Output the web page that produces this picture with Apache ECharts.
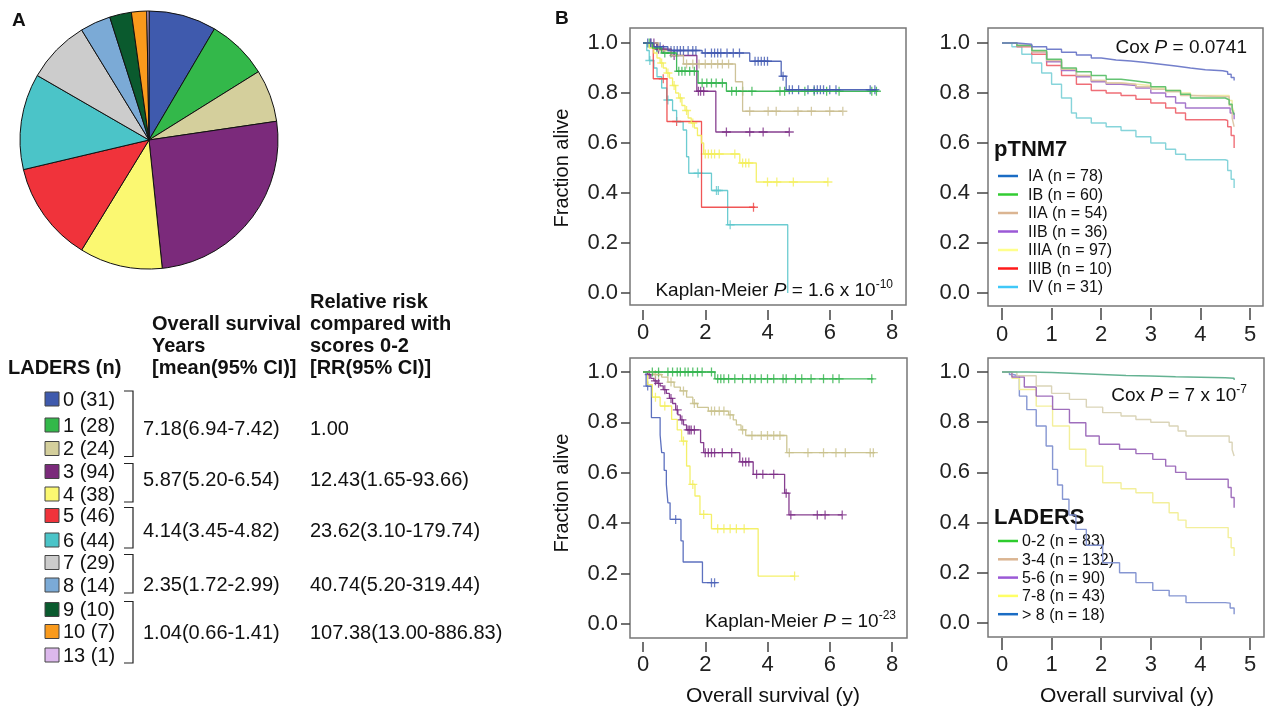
<!DOCTYPE html>
<html>
<head>
<meta charset="utf-8">
<title>LADERS survival</title>
<script src="https://cdn.jsdelivr.net/npm/echarts@6/dist/echarts.min.js"></script>
<style>
  html, body { margin: 0; padding: 0; background: #fff; }
  #chart { width: 1266px; height: 713px; }
</style>
</head>
<body>
<div id="chart"></div>
<script>
// ---------- panel A : LADERS score distribution ----------
const laderScores = ["0", "1", "2", "3", "4", "5", "6", "7", "8", "9", "10", "13"];
const laderCounts = [31, 28, 24, 94, 38, 46, 44, 29, 14, 10, 7, 1];
const laderColors = ["#3f5aad", "#33b84a", "#d4cf9c", "#7b2a7b", "#fbf871", "#f0333b",
                     "#4bc4c8", "#cccccc", "#7baad6", "#0a5a2e", "#f99a1c", "#dcb8ec"];
// groups of scores (first row, last row) with survival and relative risk
const groupRows = [[0, 2], [3, 4], [5, 6], [7, 8], [9, 11]];
const groupSurvival = ["7.18(6.94-7.42)", "5.87(5.20-6.54)", "4.14(3.45-4.82)", "2.35(1.72-2.99)", "1.04(0.66-1.41)"];
const groupRisk = ["1.00", "12.43(1.65-93.66)", "23.62(3.10-179.74)", "40.74(5.20-319.44)", "107.38(13.00-886.83)"];

// ---------- panel B : Kaplan-Meier by pTNM7 ----------
const stageNames = ["IA", "IB", "IIA", "IIB", "IIIA", "IIIB", "IV"];
const stageN = [78, 60, 54, 36, 97, 10, 31];
const kmIA = [[0,1],[0.35,0.985],[0.8,0.97],[1.9,0.96],[3.43,0.927],[4.44,0.867],[4.6,0.813],[7.5,0.813]];
const kmIB = [[0,1],[0.3,0.98],[0.6,0.96],[1.08,0.887],[1.77,0.84],[2.68,0.807],[7.55,0.807]];
const kmIIA = [[0,1],[0.5,0.97],[0.9,0.95],[1.3,0.916],[2.97,0.845],[3.2,0.727],[6.4,0.727]];
const kmIIB = [[0,1],[0.45,0.975],[0.9,0.95],[1.73,0.807],[2.34,0.644],[4.7,0.644]];
const kmIIIA = [[0,1],[0.2,0.98],[0.35,0.96],[0.45,0.94],[0.55,0.92],[0.65,0.9],[0.75,0.88],[0.85,0.86],[0.95,0.83],
                [1.05,0.8],[1.15,0.78],[1.25,0.75],[1.35,0.73],[1.45,0.7],[1.55,0.68],[1.65,0.66],[1.75,0.63],[1.88,0.6],
                [1.95,0.556],[3.11,0.52],[3.64,0.444],[5.94,0.444]];
const kmIIIB = [[0,1],[0.33,0.857],[0.77,0.686],[1.88,0.343],[3.6,0.343]];
const kmIV = [[0,1],[0.12,0.97],[0.2,0.93],[0.35,0.9],[0.45,0.865],[0.6,0.82],[0.76,0.772],[0.95,0.73],[1.08,0.685],
              [1.29,0.652],[1.4,0.545],[1.47,0.479],[2.2,0.41],[2.72,0.273],[4.65,0]];
// censored patients (+)
const cenIA = [[0.15,1],[0.25,1],[0.45,0.985],[0.55,0.985],[0.9,0.97],[1.0,0.97],[1.1,0.97],[1.2,0.97],[1.3,0.97],[1.45,0.97],
               [1.6,0.97],[1.7,0.97],[2.0,0.96],[2.2,0.96],[2.3,0.96],[2.4,0.96],[2.5,0.96],[2.7,0.96],[2.9,0.96],[3.1,0.96],
               [3.6,0.927],[3.7,0.927],[3.8,0.927],[3.9,0.927],[4.0,0.927],[4.5,0.867],[4.7,0.813],[4.8,0.813],[5.0,0.813],
               [5.3,0.813],[5.5,0.813],[5.6,0.813],[5.7,0.813],[5.8,0.813],[6.0,0.813],[6.2,0.813],[7.3,0.813],[7.45,0.813]];
const cenIB = [[0.2,1],[0.45,0.98],[0.7,0.96],[0.9,0.96],[1.15,0.887],[1.25,0.887],[1.35,0.887],[1.5,0.887],[1.65,0.887],
               [1.9,0.84],[2.05,0.84],[2.2,0.84],[2.35,0.84],[2.55,0.84],[2.85,0.807],[3.0,0.807],[3.2,0.807],[3.5,0.807],
               [4.4,0.807],[4.55,0.807],[5.2,0.807],[5.5,0.807],[5.9,0.807],[6.3,0.807],[7.35,0.807],[7.5,0.807]];
const cenIIA = [[1.4,0.916],[1.6,0.916],[1.8,0.916],[2.0,0.916],[2.2,0.916],[2.4,0.916],[2.55,0.916],[2.75,0.916],
                [3.43,0.727],[4.02,0.727],[4.28,0.727],[4.98,0.727],[5.41,0.727],[6.0,0.727],[6.42,0.727]];
const cenIIB = [[0.25,1],[0.35,1],[0.5,0.975],[0.65,0.975],[1.0,0.95],[1.78,0.807],[1.85,0.807],[1.95,0.807],
                [2.68,0.644],[3.43,0.644],[3.86,0.644],[4.7,0.644]];
const cenIIIA = [[0.6,0.92],[0.8,0.88],[1.0,0.83],[1.2,0.78],[1.4,0.73],[1.6,0.68],[2.0,0.556],[2.1,0.556],[2.2,0.556],
                 [2.3,0.556],[2.45,0.556],[2.95,0.556],[3.2,0.52],[3.3,0.52],[3.4,0.52],[4.0,0.444],[4.3,0.444],[4.83,0.444],[5.94,0.444]];
const cenIIIB = [[0.65,0.857],[1.08,0.686],[3.55,0.343]];
const cenIV = [[0.22,0.93],[0.8,0.772],[1.77,0.479],[2.36,0.41],[2.42,0.41],[2.8,0.273]];

// ---------- panel B : Kaplan-Meier by LADERS ----------
const laderGroups = ["0-2", "3-4", "5-6", "7-8", "> 8"];
const laderGroupN = [83, 132, 90, 43, 18];
const km02 = [[0,1],[2.31,0.973],[7.4,0.973]];
const km34 = [[0,1],[0.35,0.99],[0.6,0.98],[0.8,0.96],[1.0,0.94],[1.2,0.925],[1.4,0.9],[1.6,0.875],[1.75,0.86],[2.1,0.845],
              [2.75,0.83],[2.9,0.81],[3.0,0.79],[3.15,0.77],[3.3,0.748],[4.62,0.68],[7.45,0.68]];
const km56 = [[0,1],[0.15,0.99],[0.25,0.975],[0.35,0.965],[0.45,0.955],[0.55,0.945],[0.65,0.93],[0.75,0.915],[0.85,0.895],
              [0.95,0.875],[1.05,0.85],[1.12,0.83],[1.2,0.81],[1.3,0.79],[1.4,0.77],[1.85,0.72],[1.95,0.68],[3.11,0.643],
              [3.54,0.594],[4.55,0.519],[4.69,0.433],[6.4,0.433]];
const km78 = [[0,1],[0.15,0.95],[0.3,0.9],[0.55,0.865],[0.92,0.812],[1.1,0.77],[1.24,0.726],[1.4,0.627],[1.51,0.554],
              [1.67,0.508],[1.83,0.435],[2.2,0.378],[3.7,0.19],[4.87,0.19]];
const km8p = [[0,1],[0.1,0.944],[0.27,0.819],[0.55,0.75],[0.6,0.68],[0.68,0.61],[0.75,0.554],[0.8,0.481],[0.87,0.415],
              [1.22,0.33],[1.29,0.246],[1.91,0.164],[2.4,0.164]];
const cen02 = [[0.3,1],[0.5,1],[0.8,1],[0.95,1],[1.1,1],[1.2,1],[1.35,1],[1.45,1],[1.6,1],[1.75,1],[1.9,1],[2.2,1],
               [2.4,0.973],[2.5,0.973],[2.6,0.973],[2.75,0.973],[2.95,0.973],[3.2,0.973],[3.45,0.973],[3.6,0.973],[3.8,0.973],
               [4.0,0.973],[4.2,0.973],[4.5,0.973],[4.6,0.973],[4.9,0.973],[5.1,0.973],[5.4,0.973],[5.8,0.973],[6.1,0.973],
               [6.3,0.973],[7.35,0.973]];
const cen34 = [[0.4,0.99],[0.5,0.99],[0.9,0.96],[1.3,0.925],[1.65,0.875],[2.2,0.845],[2.3,0.845],[2.45,0.845],[2.6,0.845],
               [2.8,0.83],[3.2,0.77],[3.5,0.748],[3.8,0.748],[4.0,0.748],[4.2,0.748],[4.4,0.748],[4.7,0.68],[5.3,0.68],
               [5.8,0.68],[6.2,0.68],[6.5,0.68],[7.3,0.68],[7.4,0.68]];
const cen56 = [[0.2,0.99],[0.4,0.965],[0.5,0.955],[0.7,0.93],[0.9,0.895],[1.1,0.85],[1.25,0.81],[1.45,0.77],[1.5,0.77],
               [1.55,0.77],[1.65,0.77],[2.0,0.68],[2.1,0.68],[2.2,0.68],[2.3,0.68],[2.55,0.68],[2.85,0.68],[3.2,0.643],
               [3.3,0.643],[3.4,0.643],[3.65,0.594],[3.85,0.594],[4.2,0.594],[4.6,0.519],[4.75,0.433],[5.6,0.433],[5.85,0.433],[6.4,0.433]];
const cen78 = [[0.4,0.9],[0.7,0.865],[1.3,0.726],[1.6,0.554],[1.95,0.435],[2.4,0.378],[2.6,0.378],[2.8,0.378],[3.0,0.378],
               [3.25,0.378],[4.87,0.19]];
const cen8p = [[0.15,0.944],[1.05,0.415],[2.2,0.164],[2.3,0.164]];

// ---------- panel B : Cox adjusted curves ----------
const coxIA = [[0,1],[0.3,0.995],[0.6,0.985],[0.9,0.975],[1.2,0.963],[1.5,0.952],[1.8,0.94],[2.0,0.932],[2.3,0.928],[2.6,0.922],
               [2.9,0.915],[3.2,0.908],[3.5,0.9],[3.8,0.893],[4.1,0.889],[4.45,0.885],[4.55,0.875],[4.62,0.862],[4.68,0.85]];
const coxIB = [[0,1],[0.3,0.99],[0.6,0.97],[0.9,0.935],[1.2,0.9],[1.5,0.885],[1.8,0.87],[2.1,0.855],[2.4,0.848],[2.7,0.84],
               [3.0,0.825],[3.3,0.81],[3.6,0.795],[3.8,0.78],[4.5,0.773],[4.58,0.755],[4.64,0.735],[4.68,0.713]];
const coxIIA = [[0,1],[0.3,0.99],[0.6,0.965],[0.9,0.93],[1.2,0.895],[1.5,0.87],[1.8,0.85],[2.1,0.84],[2.4,0.835],[2.7,0.825],
                [3.0,0.815],[3.3,0.805],[3.6,0.79],[3.8,0.785],[4.5,0.785],[4.58,0.75],[4.64,0.7],[4.68,0.665]];
const coxIIB = [[0,1],[0.3,0.99],[0.6,0.965],[0.9,0.925],[1.2,0.89],[1.5,0.865],[1.8,0.845],[2.1,0.835],[2.4,0.83],[2.7,0.82],
                [3.0,0.8],[3.3,0.785],[3.5,0.76],[3.7,0.74],[4.5,0.74],[4.6,0.72],[4.68,0.695]];
const coxIIIA = [[0,1],[0.3,0.99],[0.6,0.965],[0.9,0.93],[1.2,0.895],[1.5,0.87],[1.8,0.85],[2.1,0.84],[2.4,0.835],[2.7,0.83],
                 [3.0,0.82],[3.3,0.81],[3.6,0.8],[3.8,0.79],[4.5,0.79],[4.58,0.77],[4.64,0.745],[4.68,0.725]];
const coxIIIB = [[0,1],[0.3,0.985],[0.6,0.955],[0.9,0.91],[1.2,0.87],[1.5,0.835],[1.8,0.81],[2.1,0.8],[2.4,0.79],[2.7,0.775],
                 [3.0,0.76],[3.3,0.74],[3.5,0.72],[3.7,0.693],[4.5,0.69],[4.55,0.665],[4.62,0.63],[4.68,0.58]];
const coxIV = [[0,1],[0.2,0.985],[0.4,0.955],[0.6,0.92],[0.8,0.88],[1.0,0.835],[1.2,0.78],[1.4,0.72],[1.5,0.7],[1.8,0.68],
               [2.1,0.665],[2.4,0.65],[2.7,0.625],[3.0,0.6],[3.3,0.575],[3.5,0.555],[3.7,0.533],[4.5,0.53],[4.55,0.49],
               [4.62,0.455],[4.68,0.42]];
const cox02 = [[0,1],[0.5,0.998],[1.0,0.994],[1.5,0.99],[2.0,0.986],[2.5,0.984],[3.0,0.981],[3.5,0.979],[4.0,0.977],
               [4.5,0.975],[4.68,0.968]];
const cox34 = [[0,1],[0.3,0.985],[0.69,0.944],[1.0,0.915],[1.36,0.891],[1.7,0.86],[2.03,0.838],[2.4,0.825],[2.7,0.811],
               [3.0,0.8],[3.37,0.785],[3.55,0.765],[3.71,0.745],[4.5,0.745],[4.58,0.72],[4.64,0.69],[4.68,0.665]];
const cox56 = [[0,1],[0.2,0.98],[0.45,0.94],[0.69,0.904],[1.02,0.851],[1.36,0.798],[1.69,0.745],[1.96,0.712],[2.37,0.692],
               [2.7,0.675],[3.04,0.652],[3.3,0.625],[3.5,0.6],[3.71,0.573],[4.5,0.573],[4.56,0.54],[4.62,0.5],[4.68,0.459]];
const cox78 = [[0,1],[0.2,0.975],[0.35,0.93],[0.69,0.864],[1.02,0.785],[1.36,0.692],[1.69,0.625],[2.03,0.559],[2.4,0.535],
               [2.7,0.519],[3.04,0.479],[3.37,0.439],[3.55,0.41],[3.71,0.38],[4.5,0.38],[4.56,0.34],[4.62,0.3],[4.68,0.267]];
const cox8p = [[0,1],[0.15,0.99],[0.22,0.984],[0.35,0.904],[0.5,0.85],[0.69,0.785],[0.89,0.705],[1.02,0.612],[1.12,0.55],
               [1.22,0.493],[1.35,0.43],[1.49,0.373],[1.7,0.31],[2.03,0.24],[2.37,0.2],[2.7,0.161],[3.04,0.13],[3.37,0.108],
               [3.71,0.081],[4.5,0.079],[4.6,0.06],[4.68,0.035]];

const fraction = [0, 0.2, 0.4, 0.6, 0.8, 1.0];

// ---------- colours ----------
const kmStageColors = ["#4058b0", "#2fb34a", "#c9bd8e", "#7a2a84", "#f3ee5a", "#ee4444", "#5cc7cc"];
const kmLaderColors = ["#2fb34a", "#c8c08a", "#7a2a84", "#f3ee5a", "#4b62b8"];
const coxStageColors = ["#6c78c8", "#5cc06c", "#dcc4a4", "#a070c8", "#eeeaa0", "#ee6670", "#80d2d8"];
const coxLaderColors = ["#5cae8c", "#d8d2b4", "#9a66b8", "#f2ee96", "#8090d0"];
const legStageColors = ["#1a6cc4", "#33cc33", "#dbb592", "#9b59d6", "#ffff8c", "#ff1a1a", "#40c8f8"];
const legLaderColors = ["#2ecc2e", "#dbb592", "#9b59d6", "#ffff66", "#1a6cc4"];

const FONT = "'Liberation Sans', Arial, Helvetica, sans-serif";
const plus = "path://M4.3,0H5.7V4.3H10V5.7H5.7V10H4.3V5.7H0V4.3H4.3Z";

const chart = echarts.init(document.getElementById("chart"));

function text(x, y, str, size, opts) {
  const o = opts || {};
  return {
    type: "text", x: x, y: y, rotation: o.rotation || 0, silent: true,
    style: {
      text: str, fontSize: size, fontFamily: FONT, fontWeight: o.bold ? "bold" : "normal",
      fill: "#111", align: o.align || "left", verticalAlign: "middle", rich: o.rich
    }
  };
}

function frame(x, y, w, h) {
  return { type: "rect", silent: true, shape: { x: x, y: y, width: w, height: h },
           style: { fill: "none", stroke: "#777", lineWidth: 1.5 } };
}

function xAxisOf(grid, max, interval, offset, tickLen, margin) {
  return {
    type: "value", gridIndex: grid, min: 0, max: max, interval: interval, offset: offset,
    axisLine: { show: false, onZero: false },
    axisTick: { show: true, length: tickLen, lineStyle: { color: "#444", width: 1.5 } },
    axisLabel: { margin: margin, fontSize: 22, color: "#222", fontFamily: FONT },
    splitLine: { show: false }
  };
}

function yAxisOf(grid, offset, tickLen, margin) {
  return {
    type: "value", gridIndex: grid, min: fraction[0], max: fraction[fraction.length - 1], interval: 0.2, offset: offset,
    axisLine: { show: false, onZero: false },
    axisTick: { show: true, length: tickLen, lineStyle: { color: "#444", width: 1.5 } },
    axisLabel: { margin: margin, fontSize: 22, color: "#222", fontFamily: FONT, formatter: v => v.toFixed(1) },
    splitLine: { show: false }
  };
}

function stepLine(grid, data, color, width, opacity) {
  return {
    type: "line", xAxisIndex: grid, yAxisIndex: grid, data: data, step: "end",
    showSymbol: false, clip: false, silent: true,
    lineStyle: { color: color, width: width, opacity: opacity }
  };
}

function censor(grid, data, color) {
  return {
    type: "scatter", xAxisIndex: grid, yAxisIndex: grid, data: data, clip: false, silent: true,
    symbol: plus, symbolSize: 9, itemStyle: { color: color }
  };
}

const richP = {
  i: { fontStyle: "italic", fontSize: 19, fontFamily: FONT, lineHeight: 24 },
  sup: { fontSize: 12, fontFamily: FONT, verticalAlign: "top", lineHeight: 12 }
};

// ---------- graphic : table of panel A, frames, legends, labels ----------
const rowY = [399, 425, 448.5, 471.5, 494, 515.5, 540, 562.5, 585, 609.5, 631.5, 655];
const groupY = [429, 480, 531, 585, 633];
const graphics = [];

graphics.push(text(12, 21, "A", 19, { bold: true }));
graphics.push(text(555, 19, "B", 19, { bold: true }));

const headLines = [
  [310, 302, "Relative risk"],
  [152, 324, "Overall survival"], [310, 324, "compared with"],
  [152, 346, "Years"], [310, 346, "scores 0-2"],
  [8, 368, "LADERS (n)"], [152, 368, "[mean(95% CI)]"], [310, 368, "[RR(95% CI)]"]
];
headLines.forEach(h => graphics.push(text(h[0], h[1], h[2], 20, { bold: true })));

laderScores.forEach((s, i) => {
  graphics.push({ type: "rect", silent: true, shape: { x: 45, y: rowY[i] - 7, width: 14, height: 14 },
                  style: { fill: laderColors[i], stroke: "#444", lineWidth: 1 } });
  graphics.push(text(63, rowY[i] + 1, s + " (" + laderCounts[i] + ")", 20));
});

groupRows.forEach((g, k) => {
  const top = rowY[g[0]] - 8, bottom = rowY[g[1]] + 8;
  graphics.push({ type: "polyline", silent: true,
                  shape: { points: [[124, top], [133, top], [133, bottom], [124, bottom]] },
                  style: { stroke: "#222", lineWidth: 1.2, fill: "none" } });
  graphics.push(text(143, groupY[k], groupSurvival[k], 20));
  graphics.push(text(310, groupY[k], groupRisk[k], 20));
});

graphics.push(frame(630, 28, 276, 277), frame(630, 358, 277, 280),
              frame(988, 28, 275, 278), frame(988, 358, 276, 279));

graphics.push(text(562, 168, "Fraction alive", 20, { rotation: Math.PI / 2, align: "center" }));
graphics.push(text(562, 493, "Fraction alive", 20, { rotation: Math.PI / 2, align: "center" }));
graphics.push(text(773, 696, "Overall survival (y)", 21, { align: "center" }));
graphics.push(text(1127, 696, "Overall survival (y)", 21, { align: "center" }));

graphics.push(text(893, 291, "Kaplan-Meier {i|P} = 1.6 x 10{sup|-10}", 19, { align: "right", rich: richP }));
graphics.push(text(896, 622, "Kaplan-Meier {i|P} = 10{sup|-23}", 19, { align: "right", rich: richP }));
graphics.push(text(1247, 48, "Cox {i|P} = 0.0741", 19, { align: "right", rich: richP }));
graphics.push(text(1247, 396, "Cox {i|P} = 7 x 10{sup|-7}", 19, { align: "right", rich: richP }));

// legends of the Cox panels
graphics.push(text(994, 150, "pTNM7", 22, { bold: true }));
stageNames.forEach((s, i) => {
  const y = 176 + i * 18.5;
  graphics.push({ type: "line", silent: true, shape: { x1: 998, y1: y, x2: 1018, y2: y },
                  style: { stroke: legStageColors[i], lineWidth: 2.5 } });
  graphics.push(text(1028, y + 1, s + " (n = " + stageN[i] + ")", 16));
});
graphics.push(text(994, 518, "LADERS", 22, { bold: true }));
laderGroups.forEach((s, i) => {
  const y = 541 + i * 18.3;
  graphics.push({ type: "line", silent: true, shape: { x1: 998, y1: y, x2: 1018, y2: y },
                  style: { stroke: legLaderColors[i], lineWidth: 2.5 } });
  graphics.push(text(1022, y + 1, s + " (n = " + laderGroupN[i] + ")", 16));
});

// ---------- series ----------
const kmStage = [kmIA, kmIB, kmIIA, kmIIB, kmIIIA, kmIIIB, kmIV];
const cenStage = [cenIA, cenIB, cenIIA, cenIIB, cenIIIA, cenIIIB, cenIV];
const kmLader = [km02, km34, km56, km78, km8p];
const cenLader = [cen02, cen34, cen56, cen78, cen8p];
const coxStage = [coxIA, coxIB, coxIIA, coxIIB, coxIIIA, coxIIIB, coxIV];
const coxLader = [cox02, cox34, cox56, cox78, cox8p];

const series = [];
// pie of panel A
series.push({
  type: "pie", center: [149, 140], radius: 129, startAngle: 90, clockwise: true, silent: true,
  label: { show: false }, labelLine: { show: false },
  itemStyle: { borderColor: "#111", borderWidth: 1 },
  data: laderCounts.map((v, i) => ({ name: laderScores[i], value: v, itemStyle: { color: laderColors[i] } }))
});
// draw order: lower curves first, IA / 0-2 on top
[6, 5, 4, 3, 2, 1, 0].forEach(i => {
  series.push(stepLine(0, kmStage[i], kmStageColors[i], 1.3, 0.9));
  series.push(censor(0, cenStage[i], kmStageColors[i]));
});
[4, 3, 2, 1, 0].forEach(i => {
  series.push(stepLine(1, kmLader[i], kmLaderColors[i], 1.3, 0.9));
  series.push(censor(1, cenLader[i], kmLaderColors[i]));
});
[6, 5, 4, 3, 2, 1, 0].forEach(i => series.push(stepLine(2, coxStage[i], coxStageColors[i], 1.4, 0.95)));
[4, 3, 2, 1, 0].forEach(i => series.push(stepLine(3, coxLader[i], coxLaderColors[i], 1.4, 0.95)));

const option = {
  animation: false,
  backgroundColor: "#fff",
  grid: [
    { left: 643, top: 43, width: 249, height: 250 },
    { left: 643, top: 372, width: 249, height: 252 },
    { left: 1002, top: 43, width: 248, height: 250 },
    { left: 1002, top: 372, width: 248, height: 251 }
  ],
  xAxis: [
    xAxisOf(0, 8, 2, 17, 10, 12),
    xAxisOf(1, 8, 2, 18, 10, 12),
    xAxisOf(2, 5, 1, 15, 12, 16),
    xAxisOf(3, 5, 1, 15, 12, 16)
  ],
  yAxis: [
    yAxisOf(0, 13, 9, 12),
    yAxisOf(1, 13, 9, 12),
    yAxisOf(2, 14, 11, 18),
    yAxisOf(3, 14, 11, 18)
  ],
  graphic: graphics,
  series: series
};

chart.setOption(option);
</script>
</body>
</html>
